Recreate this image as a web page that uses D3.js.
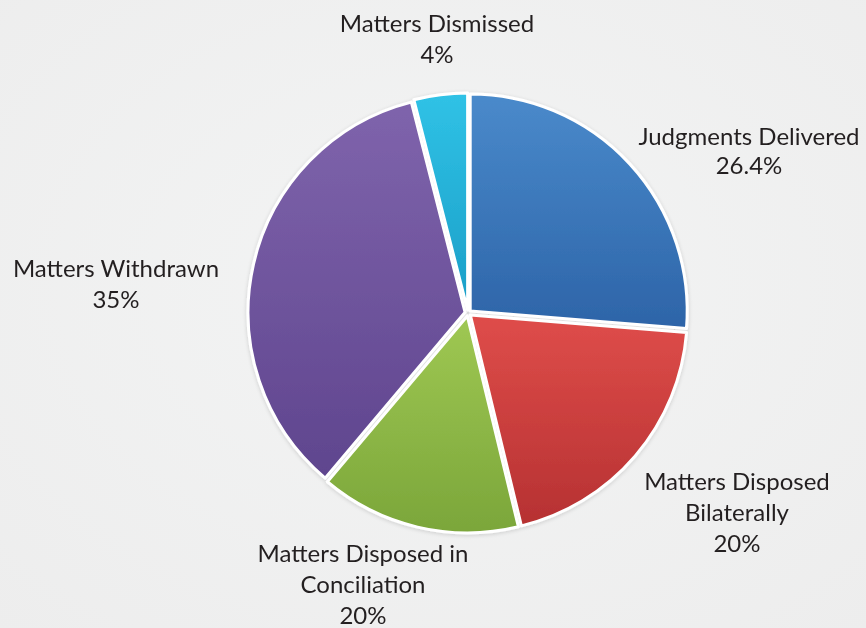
<!DOCTYPE html>
<html>
<head>
<meta charset="utf-8">
<script src="https://cdn.jsdelivr.net/npm/d3@7/dist/d3.min.js"></script>
<style>
  html, body { margin: 0; padding: 0; background: #f1f2f2; }
  svg { display: block; }
</style>
</head>
<body>
<svg id="chart" width="866" height="628"></svg>
<script>
// ---- data ----
const categories = ["Judgments Delivered", "Matters Disposed Bilaterally", "Matters Disposed in Conciliation", "Matters Withdrawn", "Matters Dismissed"];
const sliceValues = [26.4, 20, 15, 35, 4];            // slice sizes
const labelPercents = ["26.4%", "20%", "20%", "35%", "4%"]; // percent text as printed
const labelLines = [
  ["Judgments Delivered"],
  ["Matters Disposed", "Bilaterally"],
  ["Matters Disposed in", "Conciliation"],
  ["Matters Withdrawn"],
  ["Matters Dismissed"]
];
const colorsTop = ["#4a8acb", "#df4d4a", "#9fc853", "#7f64ac", "#30c2e6"];
const colorsBottom = ["#2d64a8", "#b63132", "#7ba63a", "#5f458e", "#1a9ec7"];

// ---- layout ----
const W = 866, H = 628;
const cx = 468, cy = 313, R = 217, explode = 3;
const labelPos = [ // [center x, first baseline]
  [749, 145], [737, 490], [363, 562], [116, 277], [437, 32]
];
const lineH = [29, 31, 31, 31, 31];

const svg = d3.select("#chart");
const defs = svg.append("defs");

const bg = defs.append("radialGradient").attr("id", "bg").attr("cx", "50%").attr("cy", "45%").attr("r", "75%");
bg.append("stop").attr("offset", "0%").attr("stop-color", "#f3f4f4");
bg.append("stop").attr("offset", "100%").attr("stop-color", "#ededed");
svg.append("rect").attr("width", W).attr("height", H).attr("fill", "url(#bg)");

categories.forEach((c, i) => {
  const g = defs.append("linearGradient").attr("id", "g" + i)
    .attr("x1", "0").attr("y1", "0").attr("x2", "0").attr("y2", "1");
  g.append("stop").attr("offset", "0%").attr("stop-color", colorsTop[i]);
  g.append("stop").attr("offset", "100%").attr("stop-color", colorsBottom[i]);
});

const sh = defs.append("filter").attr("id", "shadow").attr("x", "-10%").attr("y", "-10%").attr("width", "120%").attr("height", "120%");
sh.append("feGaussianBlur").attr("in", "SourceAlpha").attr("stdDeviation", 2).attr("result", "b");
sh.append("feOffset").attr("in", "b").attr("dx", 0).attr("dy", 1).attr("result", "o");
sh.append("feComponentTransfer").attr("in", "o").attr("result", "o2")
  .append("feFuncA").attr("type", "linear").attr("slope", 0.15);
const m = sh.append("feMerge");
m.append("feMergeNode").attr("in", "o2");
m.append("feMergeNode").attr("in", "SourceGraphic");

const pie = d3.pie().sort(null).value(d => d)(sliceValues);
const arc = d3.arc().innerRadius(0).outerRadius(R);

const gPie = svg.append("g").attr("transform", `translate(${cx},${cy})`).attr("filter", "url(#shadow)");
gPie.selectAll("path").data(pie).join("path")
  .attr("transform", d => {
    const a = (d.startAngle + d.endAngle) / 2;
    return `translate(${explode * Math.sin(a)},${-explode * Math.cos(a)})`;
  })
  .attr("d", arc)
  .attr("fill", (d, i) => `url(#g${i})`)
  .attr("stroke", "#ffffff")
  .attr("stroke-width", 3)
  .attr("stroke-linejoin", "round");

const gLab = svg.append("g")
  .attr("font-family", "Lato, 'Open Sans', sans-serif")
  .attr("font-size", 24)
  .attr("fill", "#231f20")
  .attr("text-anchor", "middle");

categories.forEach((c, i) => {
  const lines = labelLines[i].concat([labelPercents[i]]);
  const t = gLab.append("text").attr("x", labelPos[i][0]).attr("y", labelPos[i][1]);
  lines.forEach((ln, j) => {
    t.append("tspan").attr("x", labelPos[i][0]).attr("dy", j === 0 ? 0 : lineH[i]).text(ln);
  });
});
</script>
</body>
</html>
